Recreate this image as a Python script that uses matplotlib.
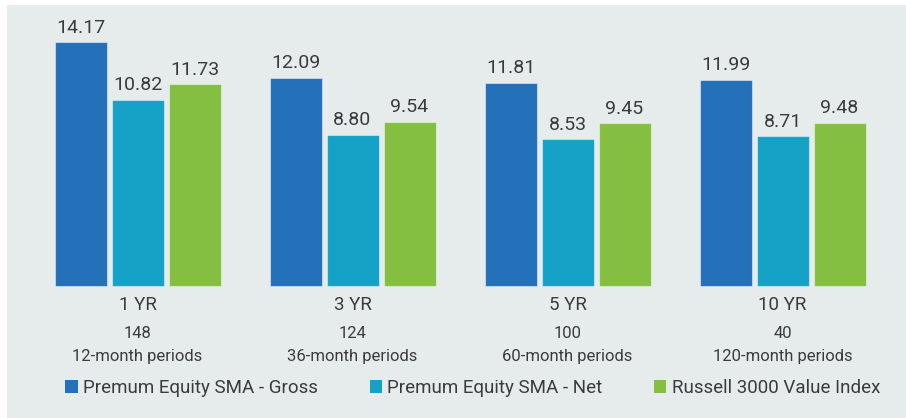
import numpy as np
import matplotlib
matplotlib.use("Agg")
import matplotlib.pyplot as plt
from matplotlib.patches import Rectangle, Patch

# data
periods = ["1 YR", "3 YR", "5 YR", "10 YR"]
counts = ["148", "124", "100", "40"]
windows = ["12-month periods", "36-month periods", "60-month periods", "120-month periods"]
gross = [14.17, 12.09, 11.81, 11.99]
net = [10.82, 8.80, 8.53, 8.71]
index_ret = [11.73, 9.54, 9.45, 9.48]
series_names = ["Premum Equity SMA - Gross", "Premum Equity SMA - Net", "Russell 3000 Value Index"]
colors = ["#2470b9", "#16a1c6", "#84bf41"]

BG = "#e6ecec"
TXT = "#3b3b3b"
plt.rcParams["font.family"] = ["Roboto", "DejaVu Sans"]

W, H = 906, 418
fig = plt.figure(figsize=(W / 100, H / 100), dpi=100)
fig.patches.append(Rectangle((7 / W, 0), 1 - 7 / W, (H - 5) / H, transform=fig.transFigure,
                             facecolor=BG, edgecolor="none", zorder=-1))

# axes covers the grey panel; zero line sits at y=286px
ax = fig.add_axes([7 / W, 0, 1 - 7 / W, (H - 5) / H])
ax.set_zorder(1)
ax.patch.set_alpha(0)
px_per_unit = 17.2
ax.set_ylim(-(H - 286) / px_per_unit, (286 - 5) / px_per_unit)
grp = 215.0
ax.set_xlim(-(137.5 - 7) / grp, -(137.5 - 7) / grp + (W - 7) / grp)
ax.axis("off")

x = np.arange(len(periods))
step = 57 / grp
width = 52 / grp
for i, (vals, c) in enumerate(zip([gross, net, index_ret], colors)):
    pos = x + (i - 1) * step
    ax.bar(pos, vals, width=width, color=c, edgecolor=(1, 1, 1, 0.45), linewidth=0.8)
    for xp, v in zip(pos, vals):
        ax.annotate(f"{v:.2f}", (xp, v), xytext=(0, 4), textcoords="offset points",
                    ha="center", va="bottom", fontsize=14, color=TXT)

for xi, p, n, w in zip(x, periods, counts, windows):
    ax.text(xi, -(305 - 286) / px_per_unit, p, ha="center", va="center", fontsize=13.5, color=TXT)
    ax.text(xi, -(333 - 286) / px_per_unit, n, ha="center", va="center", fontsize=12, color=TXT)
    ax.text(xi, -(356 - 286) / px_per_unit, w, ha="center", va="center", fontsize=12, color=TXT)

handles = [Patch(facecolor=c, edgecolor="none") for c in colors]
leg = fig.legend(handles, series_names, ncol=3, loc="center", bbox_to_anchor=(0.522, (H - 388) / H),
                 frameon=False, fontsize=13.5, handlelength=0.65, handleheight=0.65,
                 handletextpad=0.3, columnspacing=2.75, labelcolor=TXT)

fig.savefig("out.png", dpi=100, facecolor="white")
